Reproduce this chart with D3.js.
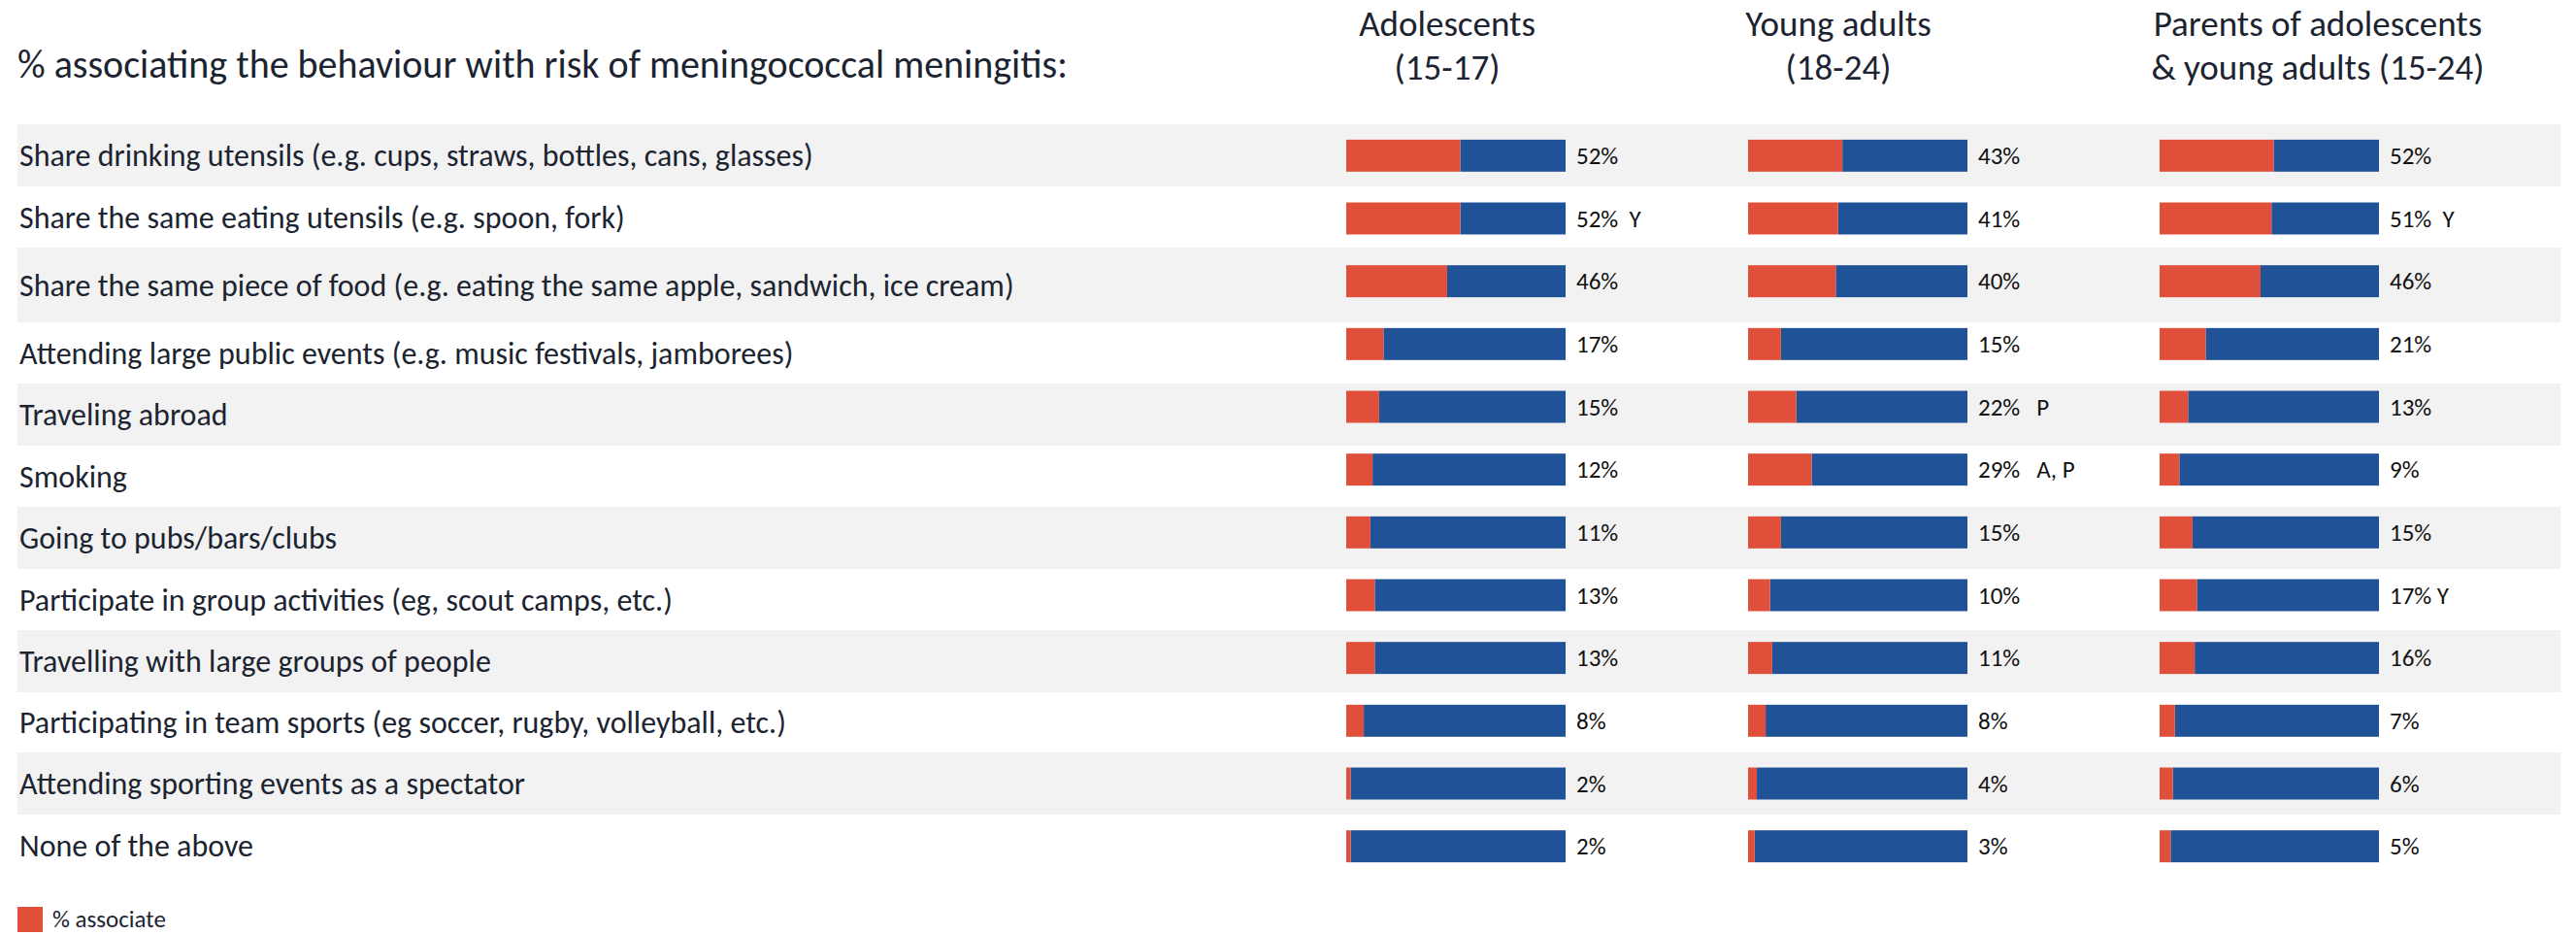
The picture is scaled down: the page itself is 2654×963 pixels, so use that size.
<!DOCTYPE html>
<html>
<head>
<meta charset="utf-8">
<script src="https://cdn.jsdelivr.net/npm/d3@7"></script>
<style>
  html, body { margin: 0; padding: 0; background: #ffffff; }
  svg { display: block; }
  text { font-family: Carlito, Calibri, Lato, "Open Sans", sans-serif; }
</style>
</head>
<body>
<div id="chart"></div>
<script>
// Behaviours asked about, in the order shown
const categories = [
  "Share drinking utensils (e.g. cups, straws, bottles, cans, glasses)",
  "Share the same eating utensils (e.g. spoon, fork)",
  "Share the same piece of food (e.g. eating the same apple, sandwich, ice cream)",
  "Attending large public events (e.g. music festivals, jamborees)",
  "Traveling abroad",
  "Smoking",
  "Going to pubs/bars/clubs",
  "Participate in group activities (eg, scout camps, etc.)",
  "Travelling with large groups of people",
  "Participating in team sports (eg soccer, rugby, volleyball, etc.)",
  "Attending sporting events as a spectator",
  "None of the above"
];

// % associating each behaviour with meningococcal meningitis risk
const adolescents = [52, 52, 46, 17, 15, 12, 11, 13, 13, 8, 2, 2];
const youngAdults = [43, 41, 40, 15, 22, 29, 15, 10, 11, 8, 4, 3];
const parents     = [52, 51, 46, 21, 13, 9, 15, 17, 16, 7, 6, 5];

// Significance letters shown after the percentages
const adolescentNotes = ["", "  Y", "", "", "", "", "", "", "", "", "", ""];
const youngAdultNotes = ["", "", "", "", "   P", "   A, P", "", "", "", "", "", ""];
const parentNotes     = ["", "  Y", "", "", "", "", "", " Y", "", "", "", ""];

// Column headings
const groupTitles = [
  ["Adolescents", "(15-17)"],
  ["Young adults", "(18-24)"],
  ["Parents of adolescents", "& young adults (15-24)"]
];

const chartTitle = "% associating the behaviour with risk of meningococcal meningitis:";
const legendLabel = "% associate";

// ---- layout ----
const W = 2654, H = 963;
const RED = "#E04F39", BLUE = "#205298", BAND = "#F2F2F2", INK = "#1b2430";
const rowEdges = [128, 192, 255, 332, 395, 459, 522, 586, 649, 713, 775, 839, 903];
const barLeft = [1387, 1801, 2225];
const barWidth = 226;
const headerCenters = [1491, 1894, 2388];

const groups = [
  { values: adolescents, notes: adolescentNotes, title: groupTitles[0] },
  { values: youngAdults, notes: youngAdultNotes, title: groupTitles[1] },
  { values: parents,     notes: parentNotes,     title: groupTitles[2] }
];

const svg = d3.select("#chart").append("svg")
  .attr("width", W).attr("height", H);

// alternating row shading
svg.append("g").selectAll("rect")
  .data(categories)
  .join("rect")
  .attr("x", 18)
  .attr("width", 2620)
  .attr("y", (d, i) => rowEdges[i])
  .attr("height", (d, i) => rowEdges[i + 1] - rowEdges[i])
  .attr("fill", (d, i) => i % 2 === 0 ? BAND : "#ffffff");

// title
svg.append("text")
  .attr("x", 18).attr("y", 80)
  .attr("font-size", 40)
  .attr("fill", INK)
  .text(chartTitle);

// row labels
svg.append("g").selectAll("text")
  .data(categories)
  .join("text")
  .attr("x", 20)
  .attr("y", (d, i) => (rowEdges[i] + rowEdges[i + 1]) / 2)
  .attr("dy", "0.35em")
  .attr("font-size", 32)
  .attr("fill", INK)
  .text(d => d);

// vertical placement of bars
const y = d3.scaleBand()
  .domain(categories)
  .range([128, 904])
  .paddingInner(0.49)
  .paddingOuter(0.245);

groups.forEach((g, gi) => {
  const x = d3.scaleLinear().domain([0, 100]).range([barLeft[gi], barLeft[gi] + barWidth]);
  const rows = categories.map((c, i) => ({ cat: c, v: g.values[i], note: g.notes[i] }));
  const col = svg.append("g");

  // column heading
  const head = col.append("text")
    .attr("text-anchor", "middle")
    .attr("font-size", 37)
    .attr("fill", INK);
  head.append("tspan").attr("x", headerCenters[gi]).attr("y", 37).text(g.title[0]);
  head.append("tspan").attr("x", headerCenters[gi]).attr("y", 82).text(g.title[1]);

  // remainder (blue) then associate share (red)
  col.selectAll("rect.rest")
    .data(rows)
    .join("rect")
    .attr("class", "rest")
    .attr("x", d => x(d.v))
    .attr("width", d => x(100) - x(d.v))
    .attr("y", d => y(d.cat))
    .attr("height", y.bandwidth())
    .attr("fill", BLUE);

  col.selectAll("rect.assoc")
    .data(rows)
    .join("rect")
    .attr("class", "assoc")
    .attr("x", x(0))
    .attr("width", d => x(d.v) - x(0))
    .attr("y", d => y(d.cat))
    .attr("height", y.bandwidth())
    .attr("fill", RED);

  // value labels with significance letters
  col.selectAll("text.val")
    .data(rows)
    .join("text")
    .attr("class", "val")
    .attr("x", x(100) + 11)
    .attr("y", d => y(d.cat) + y.bandwidth() / 2)
    .attr("dy", "0.35em")
    .attr("font-size", 25)
    .attr("fill", "#111111")
    .style("white-space", "pre")
    .text(d => d.v + "%" + d.note);
});

// legend
svg.append("rect")
  .attr("x", 18).attr("y", 934)
  .attr("width", 26).attr("height", 26)
  .attr("fill", RED);
svg.append("text")
  .attr("x", 54).attr("y", 955)
  .attr("font-size", 25)
  .attr("fill", INK)
  .text(legendLabel);
</script>
</body>
</html>
